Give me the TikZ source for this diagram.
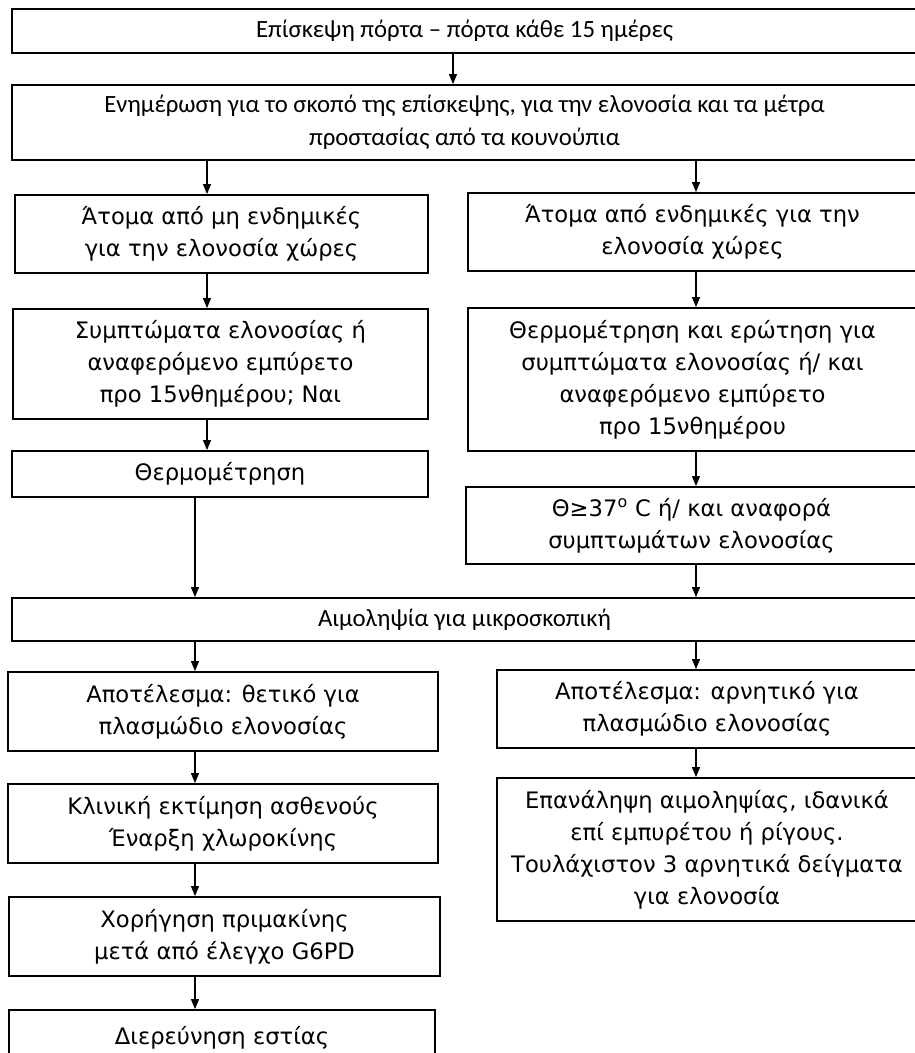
\documentclass[tikz,border=0pt]{standalone}
\usepackage{fontspec}
\setmainfont{DejaVu Sans}
\newfontfamily\calibri{Carlito}
\usetikzlibrary{arrows.meta}

\tikzstyle{box} = [rectangle, draw=black, line width=1.4pt, inner sep=0pt,
align=center, font=\fontsize{17}{24}\selectfont]
\tikzstyle{widebox} = [box, minimum width=678.75pt,
font=\calibri\fontsize{18.6}{24.75}\selectfont]
\tikzstyle{arrow} = [line width=0.8pt, -{Triangle[length=7.5pt, width=6pt]}]

\begin{document}
\begin{tikzpicture}[x=0.75pt, y=-0.75pt]
\useasboundingbox (0,0) rectangle (914,1053);

% columns of the connectors
\coordinate (mid) at (453,0);
\coordinate (left1) at (207,0);
\coordinate (left2) at (195,0);
\coordinate (right) at (696,0);

\node (visit) [widebox, minimum height=33pt] at (464.5,31) {Επίσκεψη πόρτα – πόρτα κάθε 15 ημέρες};
\node (inform) [widebox, minimum height=56.25pt] at (464.5,122.5) {Ενημέρωση για το σκοπό της επίσκεψης, για την ελονοσία και τα μέτρα\\προστασίας από τα κουνούπια};

% non endemic
\node (nonend) [box, minimum width=309.75pt, minimum height=58.5pt] at (221.5,234) {Άτομα από μη ενδημικές\\για την ελονοσία χώρες};
\node (symp) [box, minimum width=311.25pt, minimum height=82.5pt] at (220.5,364) {Συμπτώματα ελονοσίας ή\\αναφερόμενο εμπύρετο\\προ 15νθημέρου; Ναι};
\node (thermo) [box, minimum width=312pt, minimum height=34.5pt] at (220,474) {Θερμομέτρηση};

% endemic
\node (endem) [box, minimum width=336.75pt, minimum height=58.5pt] at (692.5,232) {Άτομα από ενδημικές για την\\ελονοσία χώρες};
\node (thermoq) [box, minimum width=336.75pt, minimum height=107.25pt] at (692.5,379.5) {Θερμομέτρηση και ερώτηση για\\συμπτώματα ελονοσίας ή/ και\\αναφερόμενο εμπύρετο\\προ 15νθημέρου};
\node (fever) [box, minimum width=338.25pt, minimum height=57.75pt] at (691.5,525.5) {Θ≥37\textsuperscript{o} C ή/ και αναφορά\\συμπτωμάτων ελονοσίας};

\node (blood) [widebox, minimum height=32.25pt] at (464.5,619.5) {Αιμοληψία για μικροσκοπική};

% positive
\node (pos) [box, minimum width=322.5pt, minimum height=59.25pt] at (223,711.5) {Αποτέλεσμα: θετικό για\\πλασμώδιο ελονοσίας};
\node (clin) [box, minimum width=322.5pt, minimum height=59.25pt] at (223,823.5) {Κλινική εκτίμηση ασθενούς\\Έναρξη χλωροκίνης};
\node (prim) [box, minimum width=323.25pt, minimum height=59.25pt] at (224.5,936.5) {Χορήγηση πριμακίνης\\μετά από έλεγχο G6PD};
\node (focus) [box, minimum width=319.5pt, minimum height=42pt] at (222,1038) {Διερεύνηση εστίας};

% negative
\node (neg) [box, minimum width=315pt, minimum height=58.5pt] at (707,709) {Αποτέλεσμα: αρνητικό για\\πλασμώδιο ελονοσίας};
\node (repeat) [box, minimum width=315pt, minimum height=107.25pt] at (707,849.5) {Επανάληψη αιμοληψίας, ιδανικά\\επί εμπυρέτου ή ρίγους.\\Τουλάχιστον 3 αρνητικά δείγματα\\για ελονοσία};

\draw [arrow] (visit.south -| mid) -- (inform.north -| mid);
\draw [arrow] (inform.south -| left1) -- (nonend.north -| left1);
\draw [arrow] (inform.south -| right) -- (endem.north -| right);
\draw [arrow] (nonend.south -| left1) -- (symp.north -| left1);
\draw [arrow] (endem.south -| right) -- (thermoq.north -| right);
\draw [arrow] (symp.south -| left1) -- (thermo.north -| left1);
\draw [arrow] (thermoq.south -| right) -- (fever.north -| right);
\draw [arrow] (thermo.south -| left2) -- (blood.north -| left2);
\draw [arrow] (fever.south -| right) -- (blood.north -| right);
\draw [arrow] (blood.south -| left2) -- (pos.north -| left2);
\draw [arrow] (blood.south -| right) -- (neg.north -| right);
\draw [arrow] (pos.south -| left2) -- (clin.north -| left2);
\draw [arrow] (neg.south -| right) -- (repeat.north -| right);
\draw [arrow] (clin.south -| left2) -- (prim.north -| left2);
\draw [arrow] (prim.south -| left2) -- (focus.north -| left2);

\end{tikzpicture}
\end{document}
